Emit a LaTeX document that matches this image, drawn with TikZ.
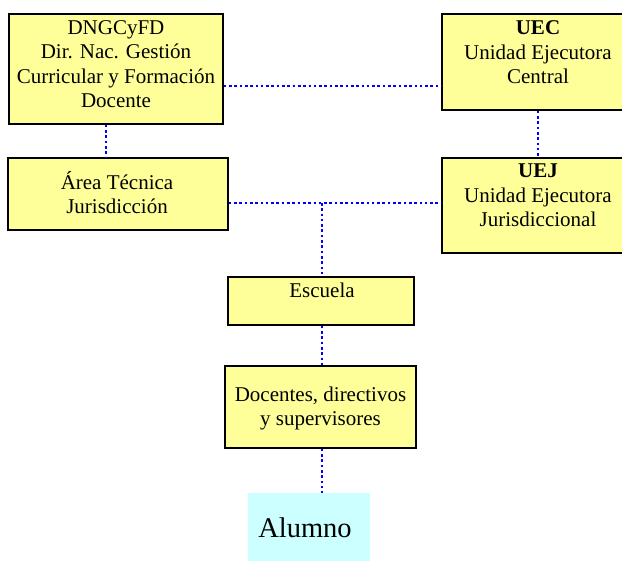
\documentclass[tikz,border=0pt]{standalone}
\usepackage{fontspec}
\setmainfont{Liberation Serif}
\usetikzlibrary{calc}

\definecolor{boxyellow}{HTML}{FFFF99}
\definecolor{boxcyan}{HTML}{CCFFFF}
\definecolor{linkblue}{HTML}{0000FF}

\tikzset{
  orgbox/.style={draw=black, line width=1.5pt, fill=boxyellow, inner sep=0pt,
                 rectangle, minimum width=#1},
  leafbox/.style={fill=boxcyan, inner sep=0pt, rectangle},
  % multi-line labels are placed by the baseline of their last line
  label/.style={anchor=base, align=center, inner sep=0pt,
                font=\fontsize{21}{24.5}\selectfont},
  biglabel/.style={anchor=base, inner sep=0pt,
                   font=\fontsize{28.5}{34}\selectfont},
  link/.style={draw=linkblue, line width=2.5pt, dash pattern=on 2.6pt off 2.7pt}
}

\begin{document}
\begin{tikzpicture}[x=1pt,y=-1pt]
  \useasboundingbox (0,0) rectangle (622,561);
  \clip (0,0) rectangle (622,561);

  % boxes
  \node[orgbox=214pt, minimum height=110pt] (dng) at (116,69) {};
  \node[orgbox=192pt, minimum height=96pt]  (uec) at (538,62) {};
  \node[orgbox=220pt, minimum height=72pt]  (area) at (118,194) {};
  \node[orgbox=192pt, minimum height=95pt]  (uej) at (538,205.5) {};
  \node[orgbox=186pt, minimum height=48pt]  (esc) at (321,301) {};
  \node[orgbox=191pt, minimum height=82pt]  (doc) at (320.5,407) {};
  \node[leafbox, minimum width=122pt, minimum height=80pt] (alu) at (309,533) {};

  % texts
  \node[label] (tdng) at (116,108) {DNGCyFD\\Dir. Nac. Gestión\\Curricular y Formación\\Docente};
  \node[label] (tuec) at (538,84) {\textbf{UEC}\\Unidad Ejecutora\\Central};
  \node[label] (tarea) at (117,214) {Área Técnica\\Jurisdicción};
  \node[label] (tuej) at (538,227) {\textbf{UEJ}\\Unidad Ejecutora\\Jurisdiccional};
  \node[label] (tesc) at (322,298) {Escuela};
  \node[label] (tdoc) at (320.5,426) {Docentes, directivos\\y supervisores};
  \node[biglabel] (talu) at (305,538) {Alumno};

  % connectors
  \coordinate (j1) at ([yshift=-17pt]dng.east);
  \draw[link] (j1) -- (j1 -| uec.west);
  \coordinate (j2) at ([xshift=-10pt]dng.south);
  \draw[link] (j2) -- (j2 |- area.north);
  \draw[link] (uec.south) -- (uej.north);
  \coordinate (j3) at ([yshift=-9pt]area.east);
  \draw[link] (j3) -- (j3 -| uej.west);
  \coordinate (j4) at ([xshift=1pt]esc.north |- j3);
  \draw[link] (j4) -- (j4 |- esc.north);
  \coordinate (j5) at ([xshift=1pt]esc.south);
  \draw[link] (j5) -- (j5 |- doc.north);
  \coordinate (j6) at ([xshift=1.5pt]doc.south);
  \draw[link] (j6) -- (j6 |- alu.north);
\end{tikzpicture}
\end{document}
